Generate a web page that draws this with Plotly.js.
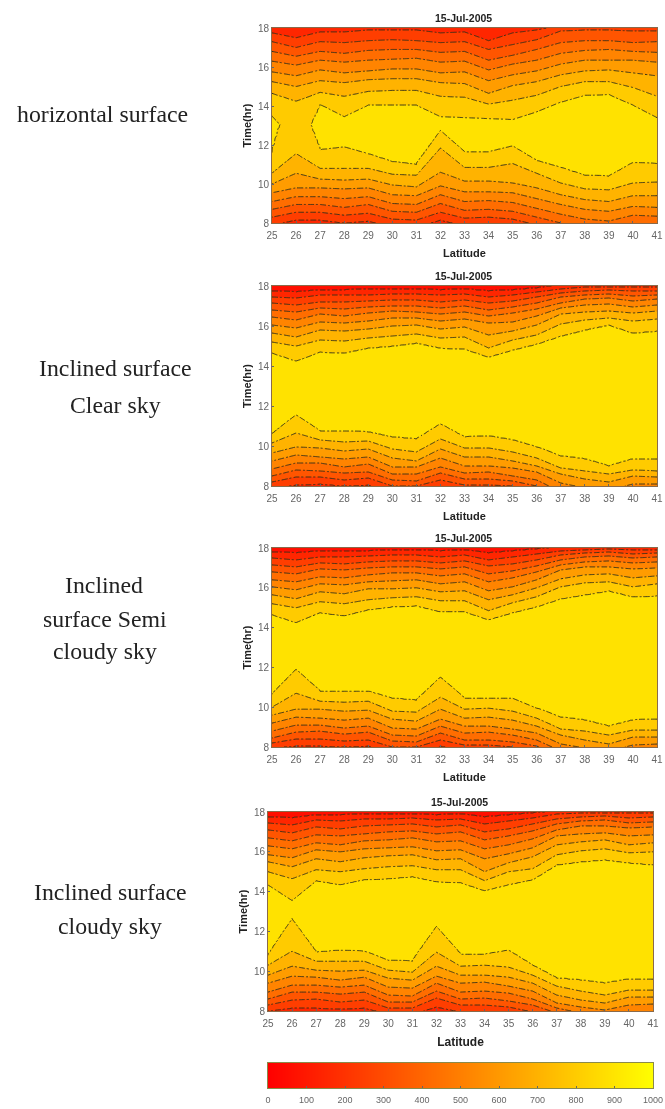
<!DOCTYPE html>
<html><head><meta charset="utf-8">
<script src="https://cdn.plot.ly/plotly-3.0.1.min.js"></script>
<style>html,body{margin:0;padding:0;background:#fff}#c{width:665px;height:1109px;filter:blur(0.65px)}</style>
</head><body><div id="c"></div>
<script>
const latitudes=[25,26,27,28,29,30,31,32,33,34,35,36,37,38,39,40,41];
const levels=[100,200,300,400,500,600,700,800,900];
const colorbarValues=[0,100,200,300,400,500,600,700,800,900,1000];
const panelTitle='15-Jul-2005';

// Isoline times (hr) read per latitude. m = morning, a = afternoon, number = level (W/m2)
const p1_m200=[7.9,8.15,8.15,8.0,8.1,7.8,7.8,8.15,7.85,7.9,7.8,7.5,7.3,7.2,7.1,7.3,7.3];
const p1_m300=[8.3,8.55,8.55,8.4,8.5,8.2,8.15,8.55,8.25,8.3,8.2,7.9,7.6,7.5,7.4,7.6,7.6];
const p1_m400=[8.7,8.95,8.95,8.8,8.95,8.6,8.55,9.0,8.65,8.7,8.6,8.3,8.0,7.8,7.7,7.9,7.9];
const p1_m500=[9.1,9.35,9.35,9.25,9.35,9.0,8.95,9.45,9.1,9.15,9.05,8.75,8.45,8.2,8.1,8.4,8.35];
const p1_m600=[9.55,9.8,9.8,9.75,9.8,9.45,9.4,9.9,9.6,9.6,9.55,9.25,8.95,8.7,8.6,8.85,8.8];
const p1_m700=[10.0,10.55,10.25,10.2,10.25,9.95,9.85,10.6,10.15,10.15,10.05,9.8,9.45,9.2,9.1,9.4,9.4];
const p1_m800=[10.55,11.55,10.8,10.8,10.8,10.5,10.45,11.85,10.85,10.85,11.05,10.55,10.05,9.75,9.7,10.05,10.1];
const p1_m900=[11.6,null,11.75,11.9,11.55,11.15,11.0,12.75,11.65,11.65,11.95,11.2,10.85,10.45,10.4,11.1,11.05];
const p1_crest=[915,870,920,950,950,950,950,950,950,950,950,950,950,950,950,950,950];
const p1_a900=[13.5,null,14.1,13.45,14.05,14.05,14.05,13.45,13.4,13.35,13.3,13.7,14.2,14.55,14.6,14.05,13.4];
const p1_a800=[14.65,14.25,14.7,14.5,14.75,14.8,14.8,14.5,14.45,14.1,14.3,14.55,15.0,15.25,15.25,14.95,14.5];
const p1_a700=[15.25,15.0,15.3,15.2,15.35,15.4,15.4,15.2,15.15,14.65,15.05,15.25,15.6,15.8,15.85,15.7,15.55];
const p1_a600=[15.75,15.55,15.85,15.7,15.8,15.9,15.9,15.7,15.75,15.3,15.6,15.8,16.15,16.35,16.35,16.35,16.25];
const p1_a500=[16.3,16.1,16.35,16.25,16.35,16.4,16.45,16.25,16.3,15.85,16.15,16.35,16.7,16.85,16.9,16.8,16.75];
const p1_a400=[16.8,16.55,16.8,16.7,16.85,16.9,16.9,16.75,16.8,16.35,16.6,16.9,17.25,17.35,17.35,17.25,17.3];
const p1_a300=[17.3,17.0,17.3,17.25,17.35,17.4,17.35,17.25,17.3,16.9,17.15,17.4,17.85,17.9,17.9,17.85,17.85];
const p1_a200=[17.75,17.5,17.8,17.8,17.9,17.9,17.9,17.75,17.8,17.35,17.75,17.9,18.15,18.2,18.2,18.2,18.2];
const p1_a100=[18.3,18.1,18.3,18.3,18.4,18.4,18.4,18.3,18.3,18.0,18.3,18.4,18.6,18.6,18.6,18.6,18.6];

const p2_m200=[7.9,8.05,8.1,8.0,8.05,7.7,7.7,8.0,7.8,7.8,7.7,7.3,7.1,7.0,6.9,7.1,7.1];
const p2_m300=[8.2,8.45,8.45,8.3,8.4,8.0,8.0,8.3,8.05,8.05,8.0,7.7,7.3,7.2,7.1,7.3,7.3];
const p2_m400=[8.5,8.8,8.75,8.65,8.7,8.3,8.25,8.65,8.35,8.35,8.25,8.0,7.5,7.35,7.3,7.45,7.45];
const p2_m500=[8.85,9.15,9.15,8.95,9.1,8.6,8.6,8.95,8.65,8.7,8.5,8.3,7.7,7.6,7.55,7.7,7.7];
const p2_m600=[9.25,9.55,9.45,9.35,9.45,8.95,8.95,9.4,9.0,9.0,8.9,8.7,8.15,7.9,7.8,8.1,8.1];
const p2_m700=[9.65,9.95,9.9,9.75,9.85,9.4,9.25,9.85,9.45,9.45,9.25,9.0,8.6,8.35,8.2,8.5,8.45];
const p2_m800=[10.15,10.65,10.3,10.2,10.25,9.85,9.7,10.35,9.9,9.9,9.7,9.4,8.9,8.75,8.6,8.8,8.75];
const p2_m900=[10.6,11.55,10.75,10.75,10.7,10.45,10.35,11.1,10.45,10.5,10.3,9.95,9.5,9.35,9.0,9.35,9.35];
const p2_a900=[14.65,14.25,14.7,14.65,14.9,15.0,15.15,14.9,14.85,14.45,14.8,15.1,15.5,15.8,16.05,15.65,15.75];
const p2_a800=[15.2,15.0,15.3,15.25,15.4,15.5,15.6,15.4,15.45,14.9,15.3,15.55,16.1,16.3,16.4,16.25,16.35];
const p2_a700=[15.65,15.45,15.8,15.75,15.85,16.0,16.05,15.85,15.95,15.55,15.75,16.05,16.6,16.7,16.75,16.65,16.75];
const p2_a600=[16.05,15.9,16.2,16.15,16.25,16.4,16.4,16.25,16.35,16.15,16.2,16.5,16.9,17.05,17.1,16.95,17.05];
const p2_a500=[16.45,16.3,16.6,16.5,16.65,16.75,16.7,16.6,16.7,16.5,16.65,16.85,17.15,17.35,17.4,17.25,17.35];
const p2_a400=[16.8,16.7,16.9,16.85,16.95,17.0,17.0,16.9,17.0,16.8,16.95,17.15,17.45,17.55,17.6,17.5,17.55];
const p2_a300=[17.15,17.05,17.2,17.2,17.25,17.3,17.3,17.2,17.3,17.15,17.25,17.45,17.65,17.75,17.8,17.75,17.75];
const p2_a200=[17.45,17.4,17.55,17.55,17.55,17.6,17.6,17.55,17.6,17.45,17.55,17.7,17.85,17.95,17.95,17.95,17.95];
const p2_a100=[17.75,17.7,17.8,17.8,17.85,17.85,17.85,17.8,17.85,17.75,17.8,17.9,18.05,18.1,18.1,18.1,18.1];

const p3_m200=[7.95,8.05,8.05,8.0,8.05,7.7,7.7,8.05,7.8,7.8,7.7,7.4,7.1,7.0,6.9,7.1,7.1];
const p3_m300=[8.2,8.4,8.4,8.3,8.35,8.0,8.0,8.35,8.1,8.1,8.0,7.7,7.3,7.2,7.1,7.3,7.3];
const p3_m400=[8.45,8.75,8.8,8.65,8.75,8.3,8.25,8.7,8.35,8.35,8.25,8.05,7.5,7.35,7.3,7.45,7.45];
const p3_m500=[8.8,9.1,9.1,8.95,9.05,8.6,8.55,9.05,8.7,8.75,8.6,8.35,7.8,7.6,7.55,7.7,7.7];
const p3_m600=[9.2,9.5,9.45,9.35,9.45,8.95,8.9,9.4,9.05,9.05,8.9,8.7,8.15,7.95,7.8,8.1,8.15];
const p3_m700=[9.6,9.9,9.9,9.8,9.85,9.4,9.3,9.9,9.45,9.5,9.35,9.05,8.6,8.35,8.15,8.5,8.5];
const p3_m800=[10.0,10.7,10.3,10.25,10.3,9.8,9.75,10.5,9.9,9.95,9.8,9.45,8.9,8.8,8.6,8.85,8.85];
const p3_m900=[10.65,11.9,10.8,10.8,10.8,10.45,10.35,11.5,10.45,10.45,10.45,9.95,9.5,9.35,9.05,9.35,9.4];
const p3_a900=[14.65,14.25,14.75,14.6,14.9,15.05,15.1,14.8,14.8,14.4,14.75,15.05,15.45,15.65,15.85,15.55,15.6];
const p3_a800=[15.2,15.0,15.3,15.2,15.4,15.5,15.55,15.35,15.35,14.85,15.25,15.55,16.05,16.25,16.3,16.05,16.2];
const p3_a700=[15.65,15.45,15.8,15.7,15.95,15.95,16.0,15.8,15.85,15.4,15.65,16.0,16.45,16.65,16.7,16.5,16.6];
const p3_a600=[16.05,15.9,16.2,16.15,16.3,16.35,16.4,16.2,16.3,15.85,16.05,16.4,16.9,17.05,17.05,16.95,17.0];
const p3_a500=[16.4,16.3,16.55,16.5,16.65,16.75,16.75,16.6,16.7,16.3,16.5,16.8,17.15,17.3,17.35,17.25,17.3];
const p3_a400=[16.8,16.7,16.95,16.9,17.0,17.05,17.05,16.95,17.05,16.7,16.85,17.1,17.4,17.55,17.6,17.5,17.55];
const p3_a300=[17.15,17.05,17.25,17.2,17.3,17.35,17.35,17.25,17.35,17.1,17.2,17.4,17.65,17.75,17.8,17.7,17.75];
const p3_a200=[17.5,17.4,17.55,17.55,17.6,17.65,17.65,17.55,17.65,17.4,17.55,17.7,17.85,17.9,17.95,17.9,17.9];
const p3_a100=[17.8,17.75,17.85,17.85,17.85,17.9,17.9,17.85,17.9,17.75,17.85,17.95,18.05,18.1,18.1,18.1,18.1];

const p4_m200=[8.0,8.15,8.15,8.1,8.15,7.85,7.85,8.2,7.95,7.95,7.9,7.6,7.3,7.1,7.0,7.2,7.2];
const p4_m300=[8.3,8.55,8.6,8.45,8.55,8.15,8.15,8.65,8.3,8.3,8.2,7.95,7.6,7.35,7.25,7.4,7.4];
const p4_m400=[8.6,8.95,8.95,8.85,8.95,8.45,8.45,9.0,8.6,8.65,8.5,8.3,7.9,7.6,7.5,7.7,7.7];
const p4_m500=[8.95,9.3,9.3,9.2,9.3,8.8,8.75,9.4,8.95,9.0,8.9,8.6,8.15,7.9,7.7,7.95,7.95];
const p4_m600=[9.4,9.75,9.7,9.55,9.7,9.2,9.15,9.75,9.4,9.45,9.25,9.0,8.4,8.2,8.05,8.3,8.35];
const p4_m700=[9.8,10.25,10.05,10.0,10.05,9.65,9.55,10.25,9.8,9.8,9.7,9.4,8.8,8.55,8.4,8.7,8.7];
const p4_m800=[10.3,11.0,10.5,10.5,10.5,10.05,9.95,10.95,10.25,10.3,10.2,9.8,9.25,9.0,8.8,9.05,9.05];
const p4_m900=[10.8,12.65,10.95,11.05,11.0,10.55,10.5,12.25,10.85,10.85,11.05,10.3,9.65,9.55,9.4,9.6,9.6];
const p4_a900=[14.35,13.55,14.55,14.35,14.6,14.65,14.75,14.5,14.45,14.05,14.35,14.6,15.35,15.5,15.6,15.45,15.35];
const p4_a800=[15.0,14.65,15.1,15.0,15.15,15.25,15.3,15.1,15.1,14.55,15.0,15.15,15.85,16.05,16.15,15.95,16.0];
const p4_a700=[15.5,15.25,15.65,15.5,15.7,15.8,15.85,15.6,15.65,15.0,15.45,15.75,16.35,16.5,16.6,16.35,16.45];
const p4_a600=[15.85,15.7,16.1,16.0,16.15,16.2,16.25,16.05,16.1,15.65,15.9,16.2,16.8,16.9,16.95,16.8,16.85];
const p4_a500=[16.3,16.15,16.45,16.35,16.55,16.6,16.7,16.5,16.55,16.15,16.35,16.65,17.1,17.3,17.3,17.2,17.25];
const p4_a400=[16.7,16.55,16.85,16.8,16.9,17.0,17.05,16.9,17.0,16.6,16.8,17.05,17.4,17.55,17.6,17.45,17.5];
const p4_a300=[17.1,16.95,17.25,17.15,17.3,17.35,17.4,17.25,17.35,17.0,17.15,17.4,17.65,17.75,17.8,17.7,17.75];
const p4_a200=[17.45,17.35,17.6,17.55,17.65,17.65,17.7,17.6,17.65,17.4,17.55,17.7,17.9,17.95,17.95,17.95,17.95];
const p4_a100=[17.75,17.7,17.85,17.85,17.9,17.9,17.9,17.85,17.9,17.75,17.85,17.95,18.05,18.1,18.1,18.1,18.1];

const crestFull=[950,950,950,950,950,950,950,950,950,950,950,950,950,950,950,950,950];

const panelData=[
 {m:[p1_m200,p1_m300,p1_m400,p1_m500,p1_m600,p1_m700,p1_m800,p1_m900],crest:p1_crest,a:[p1_a900,p1_a800,p1_a700,p1_a600,p1_a500,p1_a400,p1_a300,p1_a200,p1_a100]},
 {m:[p2_m200,p2_m300,p2_m400,p2_m500,p2_m600,p2_m700,p2_m800,p2_m900],crest:crestFull,a:[p2_a900,p2_a800,p2_a700,p2_a600,p2_a500,p2_a400,p2_a300,p2_a200,p2_a100]},
 {m:[p3_m200,p3_m300,p3_m400,p3_m500,p3_m600,p3_m700,p3_m800,p3_m900],crest:crestFull,a:[p3_a900,p3_a800,p3_a700,p3_a600,p3_a500,p3_a400,p3_a300,p3_a200,p3_a100]},
 {m:[p4_m200,p4_m300,p4_m400,p4_m500,p4_m600,p4_m700,p4_m800,p4_m900],crest:crestFull,a:[p4_a900,p4_a800,p4_a700,p4_a600,p4_a500,p4_a400,p4_a300,p4_a200,p4_a100]}
];

// Turn the isoline table into the z grid the contour trace needs, so that
// isolines run straight from one latitude's reading to the next.
const CREST_T=13.05;
const times=[];for(let i=0;i<=200;i++)times.push(8+i*0.05);
const gridX=[];for(let i=0;i<=160;i++)gridX.push(25+i*0.1);
function lineAt(arr,crest,lat){
  const i=Math.min(Math.floor(lat-25+1e-9),15),f=lat-25-i,a=arr[i],b=arr[i+1];
  if(a!=null&&b!=null)return a+(b-a)*f;
  if(f<1e-9)return a;
  if(a==null&&b==null)return null;
  // line closes where the crest falls through the 900 level
  const ca=crest[i],cb=crest[i+1],fc=(900-ca)/(cb-ca);
  if(a!=null){return f<fc? a+(CREST_T-a)*f/fc : null;}
  return f>fc? CREST_T+(b-CREST_T)*(f-fc)/(1-fc) : null;
}
function buildZ(p){
  const cols=gridX.map(lat=>{
    const i=Math.min(Math.floor(lat-25+1e-9),15),f=lat-25-i;
    const crest=p.crest[i]+(p.crest[i+1]-p.crest[i])*f;
    const pts=[[5,0]];
    p.m.forEach((arr,k)=>{const v=lineAt(arr,p.crest,lat);if(v!=null)pts.push([v-(k==7?1e-3:0),levels[k+1]]);});
    pts.push([CREST_T,crest]);
    p.a.forEach((arr,k)=>{const v=lineAt(arr,p.crest,lat);if(v!=null)pts.push([v+(k==0?1e-3:0),levels[8-k]]);});
    pts.push([21,0]);
    return times.map(t=>{
      for(let j=1;j<pts.length;j++){
        if(t<=pts[j][0]){const a=pts[j-1],b=pts[j];return a[1]+(b[1]-a[1])*(t-a[0])/(b[0]-a[0]);}
      }return 0;
    });
  });
  return times.map((_,r)=>cols.map(col=>col[r]));
}

const W=665,H=1109;
const boxes=[
 {l:272,r:657,t:28,b:223},
 {l:272,r:657,t:286,b:486},
 {l:272,r:657,t:548,b:747},
 {l:268,r:653,t:812,b:1011}];
const cbBox={l:268,r:653,t:1063,b:1088};
const dx=b=>[b.l/W,b.r/W],dy=b=>[1-b.b/H,1-b.t/H];
const FONT='"Liberation Sans",Arial,sans-serif';
const contourScale=[[0,'rgb(255,15,0)'],[1,'rgb(255,226,0)']];
const barScale=[[0,'#ff0000'],[1,'#ffff00']];
const layout={width:W,height:H,margin:{l:0,r:0,t:0,b:0},paper_bgcolor:'#fff',plot_bgcolor:'#fff',showlegend:false,annotations:[],font:{family:FONT}};
const traces=[];
boxes.forEach((b,i)=>{
  const n=i+1,xa=i?'xaxis'+n:'xaxis',ya=i?'yaxis'+n:'yaxis';
  traces.push({type:'contour',x:gridX,y:times,z:buildZ(panelData[i]),xaxis:'x'+(i?n:''),yaxis:'y'+(i?n:''),
    colorscale:contourScale,showscale:false,hoverinfo:'skip',
    autocontour:false,contours:{coloring:'fill',start:100,end:900,size:100,showlines:true},
    line:{color:'#33301a',width:1,dash:'6px,2px,2px,2px',smoothing:0}});
  layout[xa]={domain:dx(b),range:[25,41],tickvals:latitudes,ticktext:latitudes.map(String),anchor:'y'+(i?n:''),ticks:'inside',ticklen:2,tickcolor:'#666',
    tickfont:{size:10,color:'#666',family:FONT},ticklabelstandoff:3,showgrid:false,zeroline:false,showline:true,linecolor:'#8a6a4a',linewidth:1,mirror:true,
    title:{text:'<b>Latitude</b>',font:{size:i==3?12:11,color:'#222',family:FONT},standoff:9}};
  layout[ya]={domain:dy(b),range:[8,18],tickvals:[8,10,12,14,16,18],anchor:'x'+(i?n:''),ticks:'inside',ticklen:2,tickcolor:'#666',
    tickfont:{size:10,color:'#666',family:FONT},showgrid:false,zeroline:false,showline:true,linecolor:'#8a6a4a',linewidth:1,mirror:true,
    title:{text:'<b>Time(hr)</b>',font:{size:11,color:'#222',family:FONT},standoff:4}};
  layout.annotations.push({xref:'paper',yref:'paper',x:((b.l+b.r)/2-1)/W,y:1-(b.t-10)/H,text:'<b>'+panelTitle+'</b>',showarrow:false,
    font:{size:10.5,color:'#222',family:FONT},xanchor:'center',yanchor:'middle'});
});
traces.push({type:'heatmap',x:colorbarValues,y:[0,1],z:[colorbarValues,colorbarValues],xaxis:'x5',yaxis:'y5',colorscale:barScale,zmin:0,zmax:1000,zauto:false,zsmooth:'best',showscale:false,hoverinfo:'skip'});
layout.xaxis5={domain:dx(cbBox),range:[0,1000],tickvals:colorbarValues,anchor:'y5',ticks:'inside',ticklen:2,tickcolor:'#666',tickfont:{size:9,color:'#666',family:FONT},ticklabelstandoff:3,showgrid:false,zeroline:false,showline:true,linecolor:'#8a8a4a',mirror:true};
layout.yaxis5={domain:dy(cbBox),range:[0,1],anchor:'x5',showticklabels:false,ticks:'',showgrid:false,zeroline:false,showline:true,linecolor:'#8a8a4a',mirror:true};

const sideLabels=[['horizontal surface',102,114],['Inclined surface',115,368],['Clear sky',115,405],['Inclined',104,585],['surface Semi',105,619],['cloudy sky',105,651],['Inclined surface',110,892],['cloudy sky',110,926]];
sideLabels.forEach(s=>layout.annotations.push({xref:'paper',yref:'paper',x:s[1]/W,y:1-s[2]/H,text:s[0],showarrow:false,xanchor:'center',yanchor:'middle',
  font:{family:'"Liberation Serif","Times New Roman",serif',size:23.8,color:'#222'}}));

Plotly.newPlot('c',traces,layout,{displayModeBar:false,staticPlot:true});
</script></body></html>
